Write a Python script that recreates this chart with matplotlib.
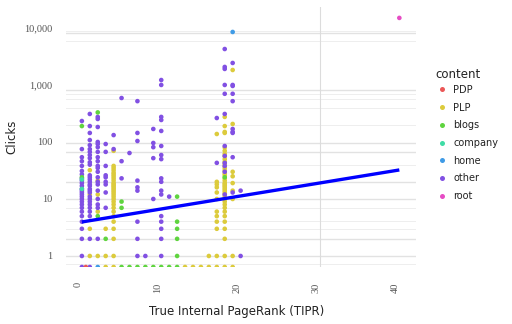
import matplotlib.pyplot as plt
import matplotlib.transforms as mtransforms
from matplotlib.lines import Line2D
import numpy as np

# clicks per page by TIPR value (key) for each content type; 0 = no clicks
other = {
    0: [233, 75, 54, 46, 38, 31, 27, 23, 21, 19, 17, 15, 14, 13, 12, 11, 10, 9, 8, 7, 6, 5, 4, 3, 2, 1, 0],
    1: [310, 190, 144, 108, 88, 75, 67, 59, 52, 44, 40, 26, 24, 22, 20, 18, 17, 15, 14, 13, 11, 10, 9, 8, 7, 6, 5, 2, 0],
    2: [275, 253, 183, 100, 92, 81, 67, 54, 46, 38, 35, 30, 24, 20, 18, 14, 10, 8, 7, 2],
    3: [92, 67, 38, 26, 24, 20, 18, 13, 7],
    4: [132, 75],
    5: [590, 46, 23],
    6: [64],
    7: [520, 144, 104, 21, 16, 14, 4, 2, 1],
    8: [1],
    9: [169, 96, 81, 52, 10],
    10: [1220, 1000, 275, 243, 156, 85, 59, 50, 23, 20, 14, 12, 5, 4, 3, 2, 1],
    11: [11],
    17: [263, 43],
    18: [4270, 2070, 1910, 1000, 700, 310, 85, 57, 43, 38, 30, 12],
    19: [2430, 1000, 960, 700, 520, 169, 150, 144, 54, 13],
    20: [14, 1],
}
plp = {
    1: [32, 12, 3, 1],
    2: [21, 12, 6, 1],
    3: [3, 1, 0],
    4: [70, 38, 35, 32, 29, 27, 25, 23, 21, 19, 18, 17, 16, 15, 14, 13, 12, 11, 10, 9, 8, 7, 6, 5, 4, 3, 2, 1, 0],
    13: [0], 14: [0], 15: [0], 16: [1, 0],
    17: [138, 20, 18, 16, 13, 10, 6, 5, 4, 3, 1, 0],
    18: [275, 190, 150, 144, 80, 70, 62, 56, 50, 45, 41, 37, 34, 31, 28, 26, 23, 21, 19, 18, 17, 16,
         15, 14, 13, 12, 11, 10, 9, 8, 7, 6, 5, 4, 3, 2, 1, 0],
    19: [1830, 207, 30, 25, 19, 14, 10, 1, 0],
}
blogs = {0: [190, 24], 2: [330, 5], 3: [2], 5: [9, 7, 0], 6: [0], 7: [0], 8: [0], 9: [0],
         10: [0], 11: [0], 12: [11, 4, 3, 2, 1, 0], 18: [24]}
company = {0: [22, 15]}
home = {2: [0], 19: [8500]}
pdp = {0.5: [0]}
root = {40: [15000]}

# linear fit of log10(clicks) ~ TIPR, end points
fit_x = [0, 40]
fit_y = [3.95, 32.3]

groups = ["PDP", "PLP", "blogs", "company", "home", "other", "root"]
colors = ["#eb5757", "#dccb3c", "#5fd43f", "#3fdca6", "#3f9be6", "#8150e3", "#e64cc4"]
group_data = [pdp, plp, blogs, company, home, other, root]

y_lo, y_hi = 0.641, 23300


def flatten(d):
    xs, ys = [], []
    for k, vals in d.items():
        for v in vals:
            xs.append(k)
            ys.append(v)
    ys = np.array(ys, dtype=float)
    ys[ys == 0] = y_lo  # zero clicks squished onto the bottom edge
    return xs, ys


fig = plt.figure(figsize=(5.12, 3.24), dpi=100)
ax = fig.add_axes([66 / 512, 57 / 324, 350 / 512, 260 / 324])
ax.set_yscale("log")
ax.set_xlim(-2.0, 42.1)
ax.set_ylim(y_lo, y_hi)

# background grid as drawn in the original
grid_major = [1, 2.0, 10, 20, 67, 96, 815, 8100]
grid_minor = [0.72, 2.97, 4.1, 6.9, 39.5, 199, 395, 570, 700, 5900, 8800]
for g in grid_major:
    ax.axhline(g, color="#e2e2e2", lw=1.0, zorder=0)
for g in grid_minor:
    ax.axhline(g, color="#eeeeee", lw=0.7, zorder=0)
ax.axvline(30, color="#dcdcdc", lw=0.8, zorder=0)

draw_order = ["PLP", "other", "blogs", "company", "home", "PDP", "root"]
for name in draw_order:
    i = groups.index(name)
    xs, ys = flatten(group_data[i])
    ax.scatter(xs, ys, s=11, color=colors[i], edgecolors="none", zorder=2)

ax.plot(fit_x, fit_y, color="#0000ff", lw=2.4, zorder=3, solid_capstyle="butt")

for s in ax.spines.values():
    s.set_visible(False)

ax.set_yticks([1, 10, 100, 1000, 10000])
ax.set_yticklabels(["1", "10", "100", "1,000", "10,000"])
ax.yaxis.set_minor_locator(plt.NullLocator())
ax.set_xticks([0, 10, 20, 30, 40])
ax.set_xticklabels(["0", "10", "20", "30", "40"], rotation=90, va="top")
ax.tick_params(length=0, labelsize=7.5, labelcolor="#555555")
ax.tick_params(axis="y", pad=10)
ax.tick_params(axis="x", pad=11)
shift = mtransforms.ScaledTranslation(-4 / 100, 0, fig.dpi_scale_trans)
for lab in ax.get_xticklabels() + ax.get_yticklabels():
    lab.set_fontfamily("Liberation Serif")
for lab in ax.get_xticklabels():
    lab.set_transform(lab.get_transform() + shift)

fig.text(12 / 512, 1 - 137 / 324, "Clicks", rotation=90, ha="center", va="center",
         fontsize=8.5, color="#222222")
fig.text(237 / 512, 1 - 312 / 324, "True Internal PageRank (TIPR)", ha="center", va="center",
         fontsize=8.5, color="#222222")

# legend
fig.text(435 / 512, 1 - 75 / 324, "content", ha="left", va="center", fontsize=8.5, color="#222222")
handles = [Line2D([], [], marker="o", ls="none", ms=3.6, color=c, markeredgewidth=0) for c in colors]
leg = fig.legend(handles, groups, loc="upper left",
                 bbox_to_anchor=(433 / 512, 1 - 81 / 324), frameon=False,
                 fontsize=7, labelspacing=0.79, handletextpad=0.66,
                 handlelength=1.0, borderaxespad=0)
for t in leg.get_texts():
    t.set_color("#222222")

fig.savefig("out.png", dpi=100, facecolor="white")
